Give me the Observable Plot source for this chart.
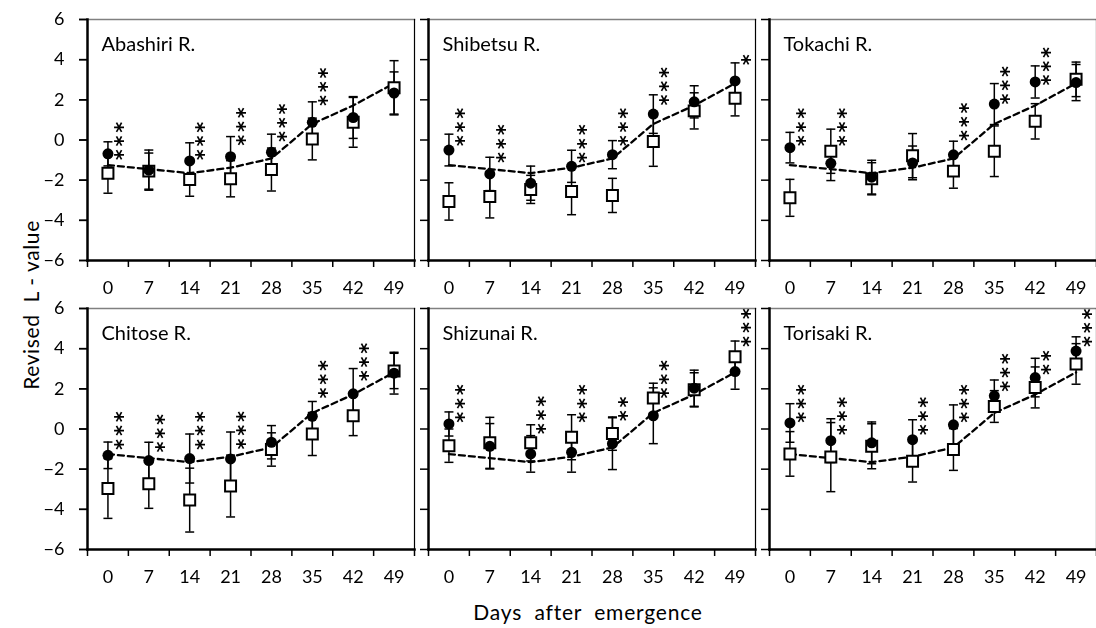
<!DOCTYPE html>
<html><head><meta charset="utf-8">
<script src="https://cdn.jsdelivr.net/npm/d3@7"></script>
<script src="https://cdn.jsdelivr.net/npm/@observablehq/plot@0.6"></script>
<style>
html,body{margin:0;padding:0;background:#fff;overflow:hidden;}
#wrap{position:relative;width:1096px;height:628px;overflow:hidden;font-family:Lato,sans-serif;color:#000;}
#chart{position:absolute;left:0;top:0;width:1100px;}
#chart svg{max-width:none !important;filter:grayscale(1);}
#chart .stars text{letter-spacing:2.8px;}
#ylab{position:absolute;left:30px;top:305px;transform:translate(-50%,-50%) rotate(-90deg);font-size:21px;letter-spacing:0.6px;white-space:pre;}
#xlab{position:absolute;left:588px;top:611px;transform:translate(-50%,-50%);font-size:21px;letter-spacing:0.8px;white-space:pre;}
</style></head><body>
<div id="wrap"><div id="chart"></div><div id="ylab">Revised  L - value</div><div id="xlab">Days  after  emergence</div></div>
<script>
const days = [0, 7, 14, 21, 28, 35, 42, 49];
const rivers = ["Abashiri R.", "Shibetsu R.", "Tokachi R.", "Chitose R.", "Shizunai R.", "Torisaki R."];
const yTicks = [-6, -4, -2, 0, 2, 4, 6];
// common dashed reference curve
const refLine = [-1.25, -1.45, -1.65, -1.38, -0.92, 0.8, 1.72, 2.82];
// filled circles: mean and SD, per river
const circleMean = [
  [-0.69, -1.5, -1.04, -0.83, -0.61, 0.88, 1.12, 2.34],
  [-0.5, -1.69, -2.15, -1.31, -0.73, 1.29, 1.9, 2.94],
  [-0.38, -1.16, -1.85, -1.14, -0.74, 1.79, 2.89, 2.86],
  [-1.31, -1.57, -1.47, -1.49, -0.66, 0.63, 1.75, 2.78],
  [0.25, -0.86, -1.24, -1.16, -0.73, 0.66, 2.03, 2.86],
  [0.3, -0.58, -0.69, -0.53, 0.21, 1.65, 2.56, 3.88]
];
const circleSd = [
  [0.6, 1.0, 0.9, 1.0, 0.9, 1.02, 1.04, 1.05],
  [0.79, 0.83, 0.85, 0.8, 0.7, 0.96, 0.8, 0.9],
  [0.76, 0.86, 0.84, 0.84, 0.68, 1.02, 0.8, 0.9],
  [0.66, 0.91, 1.22, 1.34, 0.83, 0.74, 1.26, 1.04],
  [0.6, 1.13, 0.91, 0.99, 1.29, 1.39, 0.9, 0.88],
  [0.96, 1.09, 1.04, 0.99, 0.99, 0.79, 0.96, 0.71]
];
// open squares: mean and SD, per river
const squareMean = [
  [-1.65, -1.55, -1.97, -1.93, -1.47, 0.05, 0.88, 2.6],
  [-3.06, -2.81, -2.46, -2.56, -2.76, -0.07, 1.45, 2.08],
  [-2.88, -0.56, -1.93, -0.78, -1.55, -0.56, 0.93, 3.02],
  [-2.96, -2.73, -3.54, -2.84, -1.02, -0.25, 0.66, 2.89],
  [-0.83, -0.69, -0.69, -0.41, -0.23, 1.54, 1.95, 3.6],
  [-1.24, -1.4, -0.86, -1.6, -1.02, 1.12, 2.07, 3.24]
];
const squareSd = [
  [1.0, 0.9, 0.83, 0.9, 1.07, 1.04, 1.24, 1.35],
  [0.93, 1.07, 0.7, 1.16, 0.85, 1.24, 0.9, 0.88],
  [0.92, 1.1, 0.8, 1.1, 0.85, 1.26, 0.88, 0.86],
  [1.49, 1.22, 1.59, 1.54, 0.83, 1.07, 0.99, 0.88],
  [0.83, 1.27, 0.9, 1.12, 0.83, 0.74, 0.85, 0.78],
  [1.11, 1.72, 1.12, 1.04, 1.04, 0.79, 1.02, 1.01]
];
// significance marks and the level of their centre
const stars = [
  ["***", "", "***", "***", "***", "***", "", ""],
  ["***", "***", "", "***", "***", "***", "", "*"],
  ["***", "***", "", "", "***", "***", "***", ""],
  ["***", "***", "***", "***", "", "***", "***", ""],
  ["***", "", "***", "***", "**", "***", "", "***"],
  ["***", "***", "", "***", "***", "***", "**", "***"]
];
const starLevel = [
  [-0.12, null, -0.12, 0.6, 0.79, 2.58, null, null],
  [0.58, -0.25, null, -0.25, 0.58, 2.61, null, 3.93],
  [0.58, 0.58, null, null, 0.84, 2.66, 3.6, null],
  [-0.15, -0.28, -0.15, -0.13, null, 2.41, 3.27, null],
  [1.2, null, 0.63, 1.2, 0.93, 2.41, null, 4.98],
  [1.2, 0.58, null, 0.58, 1.2, 2.74, 3.24, 4.97]
];

const rows = [];
rivers.forEach((r, i) => days.forEach((d, j) => rows.push({
  river: r, col: i % 3, row: Math.floor(i / 3), day: d,
  c: circleMean[i][j], cs: circleSd[i][j], s: squareMean[i][j], ss: squareSd[i][j],
  star: stars[i][j], starY: starLevel[i][j], ref: refLine[j]
})));
const panels = rivers.map((r, i) => ({river: r, col: i % 3, row: Math.floor(i / 3)}));
const step = days[1] - days[0];
const edges = [...days.map(d => d - step / 2), days[days.length - 1] + step / 2];

const fx = "col", fy = "row";
const cap = {draw(ctx) { ctx.moveTo(-4.5, 0); ctx.lineTo(4.5, 0); }};
const capOpts = {x: "day", fx, fy, symbol: cap, fill: "none", stroke: "black", strokeWidth: 1.5};
const barOpts = {x: "day", fx, fy, stroke: "black", strokeWidth: 1.5};

const chart = Plot.plot({
  width: 1100, height: 628,
  marginLeft: 86, marginRight: 2, marginTop: 18, marginBottom: 78,
  style: {fontFamily: "Lato, sans-serif", fontSize: "18px", color: "black", background: "white", overflow: "visible"},
  fx: {axis: null, paddingInner: 0.0409, paddingOuter: 0},
  fy: {axis: null, paddingInner: 0.1655, paddingOuter: 0},
  x: {type: "linear", domain: [edges[0], edges[edges.length - 1]], label: null},
  y: {domain: [-6, 6], label: null},
  marks: [
    Plot.frame({anchor: "top", stroke: "#808080", strokeWidth: 1.5}),
    Plot.frame({anchor: "right", stroke: "black", strokeWidth: 1.2}),
    Plot.axisX({ticks: edges, tickSize: 7, tickFormat: () => "", facetAnchor: null, label: null, strokeWidth: 1.5}),
    Plot.axisX({ticks: days, tickSize: 0, tickPadding: 21, facetAnchor: null, label: null, fontSize: 18}),
    Plot.axisY({ticks: yTicks, tickSize: 8, tickFormat: () => "", facetAnchor: null, label: null, strokeWidth: 1.5}),
    Plot.axisY({ticks: yTicks, tickSize: 8, tickPadding: 15, label: null, fontSize: 18, strokeWidth: 1.5}),
    Plot.line(rows, {x: "day", y: "ref", z: "river", fx, fy, stroke: "black", strokeWidth: 2.3, strokeDasharray: "6,4"}),
    Plot.ruleX(rows, {...barOpts, y1: d => d.s - d.ss, y2: d => d.s + d.ss}),
    Plot.dot(rows, {...capOpts, y: d => d.s - d.ss}),
    Plot.dot(rows, {...capOpts, y: d => d.s + d.ss}),
    Plot.ruleX(rows, {...barOpts, y1: d => d.c - d.cs, y2: d => d.c + d.cs}),
    Plot.dot(rows, {...capOpts, y: d => d.c - d.cs}),
    Plot.dot(rows, {...capOpts, y: d => d.c + d.cs}),
    Plot.dot(rows, {x: "day", y: "s", fx, fy, symbol: "square", r: 6.2, fill: "white", stroke: "black", strokeWidth: 2}),
    Plot.dot(rows, {x: "day", y: "c", fx, fy, r: 5.5, fill: "black", stroke: "none"}),
    Plot.text(rows.filter(d => d.star), {x: "day", y: "starY", fx, fy, text: "star", rotate: 90,
      dx: 6.5, dy: 0, lineAnchor: "middle", textAnchor: "middle", fontSize: 21, fontWeight: "bold",
      fontFamily: "DejaVu Sans", fill: "black", className: "stars"}),
    Plot.text(panels, {text: "river", fx, fy, frameAnchor: "top-left", textAnchor: "start", lineAnchor: "top", dx: 14, dy: 17, fontSize: 20}),
    Plot.frame({anchor: "left", stroke: "black", strokeWidth: 2.5}),
    Plot.frame({anchor: "bottom", stroke: "black", strokeWidth: 2.5})
  ]
});
document.getElementById("chart").appendChild(chart);
</script>
</body></html>
